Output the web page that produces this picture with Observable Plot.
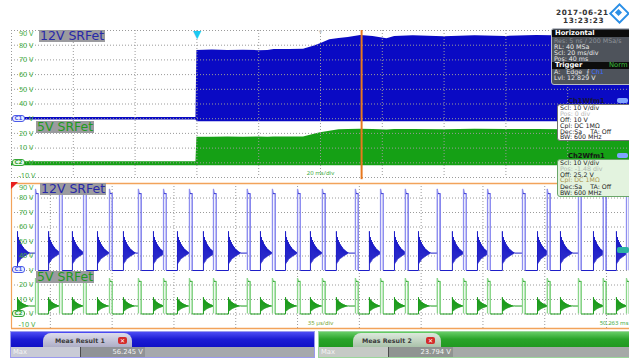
<!DOCTYPE html>
<html>
<head>
<meta charset="utf-8">
<script src="https://cdn.jsdelivr.net/npm/d3@7"></script>
<script src="https://cdn.jsdelivr.net/npm/@observablehq/plot@0.6"></script>
<style>
  html, body { margin:0; padding:0; background:#fff; }
  #wrap { position:relative; width:629px; height:360px; overflow:hidden; font-family:"DejaVu Sans", Verdana, sans-serif; }
  #wrap > * { position:absolute; }
  .sig { font-size:12.5px; line-height:12px; height:12px; background:rgba(150,150,154,0.95); padding:0 1px; white-space:nowrap; }
  .pill { font-size:5.5px; line-height:5px; height:5px; width:11px; text-align:center; border:1px solid; border-radius:3px; font-weight:bold; }
  .box { border-radius:3px; }
  .box .r { position:absolute; left:2px; font-size:6.3px; line-height:6px; height:6px; white-space:nowrap; }
  .hb { position:absolute; left:0; right:0; height:6.5px; background:#0c0c0c; color:#fff; font-weight:bold; font-size:6.8px; line-height:6.5px; padding-left:3px; }
  .mt { font-size:6.3px; font-weight:bold; color:#3a3a3a; line-height:8px; white-space:nowrap; }
  .xic { width:9px; height:7px; background:#d42a2a; border-radius:2px; color:#fff; font-size:6px; line-height:7px; text-align:center; font-weight:bold; }
  .cell { height:10px; font-size:6.8px; line-height:10px; color:#f4f4f4; white-space:nowrap; }
</style>
</head>
<body>
<div id="wrap">
  <!-- date & logo -->
  <div style="left:556px;top:9px;font-size:7.3px;font-weight:bold;color:#333;letter-spacing:0.6px;line-height:8px;">2017-06-21</div>
  <div style="left:563px;top:17px;font-size:7.3px;font-weight:bold;color:#333;letter-spacing:0.6px;line-height:8px;">13:23:23</div>
  <div style="left:612px;top:6px;width:11px;height:11px;border:2px solid #2b8fe6;transform:rotate(45deg);"></div>
  <div style="left:616px;top:10px;width:5px;height:5px;background:#2b8fe6;transform:rotate(45deg);"></div>
</div>
<script>
// ================= DATA =================
// top panel (20 ms/div), time in ms
const topXDomain = [-60, 140];
const topXTicks  = [-60, -40, -20, 0, 20, 40, 60, 80, 100, 120, 140];
const voltTicks  = [90, 80, 70, 60, 50, 40, 30, 20, 10, 0, -10];
const voltText   = ["90 V", "80 V", "70 V", "60 V", "50 V", "40 V", "V", "20 V", "10 V", "V", "-10 V"];
const chanLevels = [30, 0];
const chanNames  = ["C1", "C2"];
const triggerT   = 0;
const cursorT    = 53.3;

const envT    = [-60, -0.3, 0, 5, 10, 15, 20, 23, 25, 30, 34.5, 38, 40, 43, 46, 49, 53, 57, 61.5, 64, 70, 80, 90, 100, 110, 120, 130, 140];
const blueHi  = [30.9, 30.9, 76.4, 76.7, 76.4, 76.5, 76.3, 76.4, 77, 77, 77.2, 79.5, 81, 83.7, 84.5, 85.2, 86.6, 86, 84.4, 86, 86.4, 85.8, 86.5, 86, 86.6, 86.2, 86.5, 86.3];
const blueLo  = [29.1, 29.1, 28, 28, 28, 28, 28, 28, 28, 28, 28, 28, 28, 28, 28, 28, 28, 28, 28, 28, 28, 28, 28, 28, 28, 28, 28, 28];
const greenHi = [0.7, 0.7, 17.4, 17.4, 17.5, 17.4, 17.5, 17.4, 17.5, 17.6, 17.6, 19.5, 20.5, 21.5, 22.4, 22.7, 22.8, 22.6, 22.3, 22.6, 22.7, 22.5, 22.8, 22.6, 22.7, 22.5, 22.8, 22.6];
const greenLo = [-2, -2, -2, -2, -2, -2, -2, -2, -2, -2, -2, -2, -2, -2, -2, -2, -2, -2, -2, -2, -2, -2, -2, -2, -2, -2, -2, -2];

// bottom panel (35 µs/div zoom), time in µs
const botXDomain = [-22, 328];
const botXTicks  = [0, 35, 70, 105, 140, 175, 210, 245, 280, 315];
const riseT = [-8.4, 5.2, 18.8, 33.5, 49.9, 64.1, 78.8, 92.4, 111.6, 125.8, 140.0, 154.1, 172.8, 187.0, 201.1, 219.2, 234.0, 247.6, 267.4, 281.5, 299.1, 313.2, 326.3];
const ringT = [-18.6, -1.0, 12.5, 26.7, 41.4, 58.4, 72.0, 86.7, 100.9, 119.0, 133.2, 147.3, 162.0, 180.7, 194.9, 208.5, 227.7, 241.9, 256.0, 275.9, 288.9, 307.6, 320.6];
const pulseW = 1.6;
const ringStep = 0.28;
const blueRingTpl  = [15, -7, 11, -6, 9, -5, 7.5, -4, 6, -3.5, 5, -3, 4, -2.5, 3, -2, 2.4, -1.6, 1.8, -1.2, 1.2, -0.8, 0.8, -0.4, 0.4, 0];
const greenRingTpl = [6, -3.5, 4.5, -3, 3.8, -2.5, 3, -2, 2.5, -1.7, 2, -1.4, 1.6, -1.1, 1.2, -0.9, 1, -0.7, 0.7, -0.5, 0.5, -0.3, 0.3, -0.2, 0.2, 0];
// levels: [low, ringing settle, high, overshoot]
const blueLevels  = [30, 42, 83, 86];
const greenLevels = [0, 5.5, 22.5, 24.5];

// ================= BUILD =================
const topEnv = envT.map((t, i) => ({t, blo: blueLo[i], bhi: blueHi[i], glo: greenLo[i], ghi: greenHi[i]}));
const voltRows = voltTicks.map((v, i) => ({v, label: voltText[i]}));

function buildWave(tpl, lv) {
  const [low, settle, high, spike] = lv;
  const pts = [{t: botXDomain[0], v: low}];
  for (let i = 0; i < ringT.length; i++) {
    const r0 = ringT[i];
    const end = i < riseT.length ? riseT[i] : botXDomain[1];
    pts.push({t: r0, v: low});
    let last = settle;
    for (let k = 0; k < tpl.length; k++) {
      const t = r0 + k * ringStep;
      if (t >= end) break;
      last = settle + tpl[k];
      pts.push({t, v: last});
    }
    pts.push({t: end, v: last});
    if (i >= riseT.length) break;
    pts.push({t: end, v: spike});
    pts.push({t: end + 0.3, v: high});
    pts.push({t: end + pulseW, v: high});
    pts.push({t: end + pulseW, v: low});
  }
  pts.push({t: botXDomain[1], v: low});
  return pts;
}
const blueWave = buildWave(blueRingTpl, blueLevels);
const greenWave = buildWave(greenRingTpl, greenLevels);

const grid = {stroke: "#9a9a9a", strokeDasharray: "1,2", strokeWidth: 1};
const lblColor = "#44ad44";

function voltLabelMarks(x0, dTop, dBot) {
  return [
    Plot.text(voltRows, {filter: d => d.v < 90 && d.v > -10, x: x0, y: "v", text: "label", textAnchor: "end", dx: 22, fill: lblColor, fontSize: 7.3}),
    Plot.text(voltRows, {filter: d => d.v === 90, x: x0, y: "v", text: "label", textAnchor: "end", dx: 22, dy: dTop, fill: lblColor, fontSize: 7.3}),
    Plot.text(voltRows, {filter: d => d.v === -10, x: x0, y: "v", text: "label", textAnchor: "end", dx: 24, dy: dBot, fill: lblColor, fontSize: 7.3})
  ];
}

const topPlot = Plot.plot({
  width: 629, height: 155, marginTop: 5, marginBottom: 3, marginLeft: 11, marginRight: 0,
  x: {domain: topXDomain, axis: null},
  y: {domain: [-10, 90], axis: null},
  style: {background: "transparent", overflow: "visible"},
  marks: [
    Plot.areaY(topEnv, {x: "t", y1: "blo", y2: "bhi", fill: "#0a0ac4"}),
    Plot.areaY(topEnv, {x: "t", y1: "glo", y2: "ghi", fill: "#15a015"}),
    Plot.ruleY(voltTicks, grid),
    Plot.ruleX(topXTicks, grid),
    Plot.ruleX([cursorT], {y1: 90, y2: -11.5, stroke: "#e8781e", strokeWidth: 2}),
    Plot.text([triggerT], {x: d => d, y: 90, text: () => "▼", fill: "#1ec8f0", fontSize: 14, dy: 4}),
    Plot.text([40], {x: d => d, y: 90, text: () => "▼", fill: "#c8c8c8", fontSize: 6, dy: 2}),
    ...voltLabelMarks(topXDomain[0], 3, -2),
    Plot.text(["20 ms/div"], {x: 40, y: -10, text: d => d, fill: lblColor, fontSize: 6, dy: -4})
  ]
});

const botPlot = Plot.plot({
  width: 629, height: 155, marginTop: 5, marginBottom: 5, marginLeft: 11, marginRight: 0,
  x: {domain: botXDomain, axis: null},
  y: {domain: [-10, 90], axis: null},
  style: {background: "transparent", overflow: "visible"},
  marks: [
    Plot.ruleY(voltTicks.filter(v => v < 90 && v > -10), grid),
    Plot.ruleX(botXTicks, grid),
    Plot.line(blueWave, {x: "t", y: "v", stroke: "#1e1ec8", strokeWidth: 1}),
    Plot.ruleX(riseT, {y1: blueLevels[0], y2: blueLevels[3], stroke: "#8e8ef0", strokeWidth: 1.3}),
    Plot.ruleX(riseT, {x: d => d + pulseW, y1: blueLevels[0], y2: blueLevels[2], stroke: "#8e8ef0", strokeWidth: 1.3}),
    Plot.line(greenWave, {x: "t", y: "v", stroke: "#1c9c1c", strokeWidth: 1}),
    Plot.ruleX(riseT, {y1: greenLevels[0], y2: greenLevels[3], stroke: "#8ad68a", strokeWidth: 1.3}),
    Plot.ruleX(riseT, {x: d => d + pulseW, y1: greenLevels[0], y2: greenLevels[2], stroke: "#8ad68a", strokeWidth: 1.3}),
    Plot.ruleY([90, -10], {stroke: "#f2a35a", strokeWidth: 1.5}),
    Plot.ruleX([botXDomain[0]], {stroke: "#f2a35a", strokeWidth: 1.2}),
    ...voltLabelMarks(botXDomain[0], 4, -4),
    Plot.text(["35 µs/div"], {x: 153, y: -10, text: d => d, fill: "#7aa83a", fontSize: 6, dy: -5}),
    Plot.text(["50.263 ms"], {x: botXDomain[1], y: -10, text: d => d, fill: lblColor, fontSize: 6, dy: -5, dx: -1, textAnchor: "end"})
  ]
});

const wrap = document.getElementById("wrap");
topPlot.style.left = "0px"; topPlot.style.top = "25px";
botPlot.style.left = "0px"; botPlot.style.top = "178px";
wrap.appendChild(topPlot);
wrap.appendChild(botPlot);

// overlays
function add(html) { wrap.insertAdjacentHTML("beforeend", html); }
// signal name labels
add('<div class="sig" style="left:39px;top:30px;color:#2828a8">12V SRFet</div>');
add('<div class="sig" style="left:36px;top:121px;color:#1f9a1f">5V SRFet</div>');
add('<div class="sig" style="left:40px;top:183px;color:#2828a8">12V SRFet</div>');
add('<div class="sig" style="left:36px;top:271px;color:#1f9a1f">5V SRFet</div>');
// channel pills
add('<div class="pill" style="left:12px;top:115px;color:#4a5ae8;border-color:#4a5ae8;background:#eceeff">C1</div>');
add('<div class="pill" style="left:12px;top:159px;color:#35a535;border-color:#35a535;background:#eaf8ea">C2</div>');
add('<div class="pill" style="left:12px;top:266px;color:#4a5ae8;border-color:#4a5ae8;background:#eceeff">C1</div>');
add('<div class="pill" style="left:12px;top:310px;color:#35a535;border-color:#35a535;background:#eaf8ea">C2</div>');
add('<div style="left:11px;top:182px;width:0;height:0;border-top:7px solid #e82020;border-right:7px solid transparent"></div>');
add('<div style="left:617px;top:247px;width:12px;height:6px;background:#2bb3a3;border-radius:2px"></div>');

// Horizontal / Trigger box
add(`<div class="box" style="left:551px;top:28px;width:84px;height:55px;background:#4e535b;border:1px solid #b8bcc4;">
  <div class="hb" style="top:1px">Horizontal</div>
  <div class="r" style="top:9px;color:#8d9299">Res: 5 ns / 200 MSa/s</div>
  <div class="r" style="top:15px;color:#ececec">RL: 40 MSa</div>
  <div class="r" style="top:21px;color:#ececec">Scl: 20 ms/div</div>
  <div class="r" style="top:27px;color:#ececec">Pos: 40 ms</div>
  <div class="hb" style="top:33px">Trigger<span style="position:absolute;left:57px;color:#3cc43c;font-weight:normal">Norm</span></div>
  <div class="r" style="top:40px;color:#ececec">A:&nbsp;&nbsp; Edge &nbsp;⨍ <span style="color:#3b6cff">Ch1</span></div>
  <div class="r" style="top:46px;color:#ececec">Lvl: 12.829 V</div>
</div>`);

// Ch1 box
add('<div style="left:568px;top:98px;font-size:6.8px;font-weight:bold;color:#151540;line-height:6px">Ch1Wfm1</div>');
add('<div style="left:617px;top:98px;width:11px;height:5px;background:#7fa3ff;border-radius:2px"></div>');
add(`<div class="box" style="left:557px;top:104px;width:74px;height:35px;background:#fff;border:1px solid #707070;">
  <div class="r" style="top:0px;color:#222">Scl: 10 V/div</div>
  <div class="r" style="top:6px;color:#b8b8b8">Pos: 0 div</div>
  <div class="r" style="top:12px;color:#222">Off: 10 V</div>
  <div class="r" style="top:18px;color:#222">Cpl: DC 1MΩ</div>
  <div class="r" style="top:23.5px;color:#222">Dec:Sa &nbsp;&nbsp;&nbsp;TA: Off</div>
  <div class="r" style="top:29px;color:#222">BW: 600 MHz</div>
</div>`);

// Ch2 box
add('<div style="left:568px;top:153px;font-size:6.8px;font-weight:bold;color:#151515;line-height:6px">Ch2Wfm1</div>');
add('<div style="left:617px;top:153px;width:11px;height:5px;background:#7fa3ff;border-radius:2px"></div>');
add(`<div class="box" style="left:557px;top:159px;width:74px;height:36px;background:#e3f3df;border:1px solid #6aa66a;">
  <div class="r" style="top:0px;color:#222">Scl: 10 V/div</div>
  <div class="r" style="top:5.5px;color:#b0b8b0">Pos: -1.48 div</div>
  <div class="r" style="top:11.5px;color:#222">Off: 25.2 V</div>
  <div class="r" style="top:17px;color:#b09a50">Cpl: DC 1MΩ</div>
  <div class="r" style="top:23.5px;color:#222">Dec:Sa &nbsp;&nbsp;&nbsp;TA: Off</div>
  <div class="r" style="top:29.5px;color:#222">BW: 600 MHz</div>
</div>`);

// Meas result bars
add('<div style="left:10px;top:331px;width:303px;height:16px;background:linear-gradient(#4c4cf4,#1c1cd4 45%,#0f0fc4);border:1px solid #9a9aee;border-bottom:none"></div>');
add('<div style="left:43px;top:333px;width:89px;height:14px;background:linear-gradient(#dcdcec,#aeaec6);border-radius:8px 8px 0 0"></div>');
add('<div class="mt" style="left:55px;top:337px">Meas Result 1</div>');
add('<div class="xic" style="left:118px;top:337px">✕</div>');
add('<div style="left:10px;top:347px;width:303px;height:10px;background:#a6a9ad;border:1px solid #9a9aee;border-top:none"></div>');
add('<div class="cell" style="left:11px;top:347px;width:67px;background:#c9cbd6;padding-left:2px">Max</div>');
add('<div class="cell" style="left:80px;top:347px;width:62px;background:#909397;border-left:1px solid #4a4a4a;text-align:right;padding-right:2px">56.245 V</div>');

add('<div style="left:318px;top:331px;width:311px;height:16px;background:linear-gradient(#66cc66,#2aa42a 45%,#1f971f);border:1px solid #9ad69a;border-bottom:none"></div>');
add('<div style="left:353px;top:333px;width:88px;height:14px;background:linear-gradient(#dce8dc,#aac2aa);border-radius:8px 8px 0 0"></div>');
add('<div class="mt" style="left:362px;top:337px">Meas Result 2</div>');
add('<div class="xic" style="left:426px;top:337px">✕</div>');
add('<div style="left:318px;top:347px;width:311px;height:10px;background:#a6a9a8;border:1px solid #9ad69a;border-top:none"></div>');
add('<div class="cell" style="left:319px;top:347px;width:67px;background:#c6cac6;padding-left:2px">Max</div>');
add('<div class="cell" style="left:388px;top:347px;width:62px;background:#909492;border-left:1px solid #4a4a4a;text-align:right;padding-right:2px">23.794 V</div>');
</script>
</body>
</html>
